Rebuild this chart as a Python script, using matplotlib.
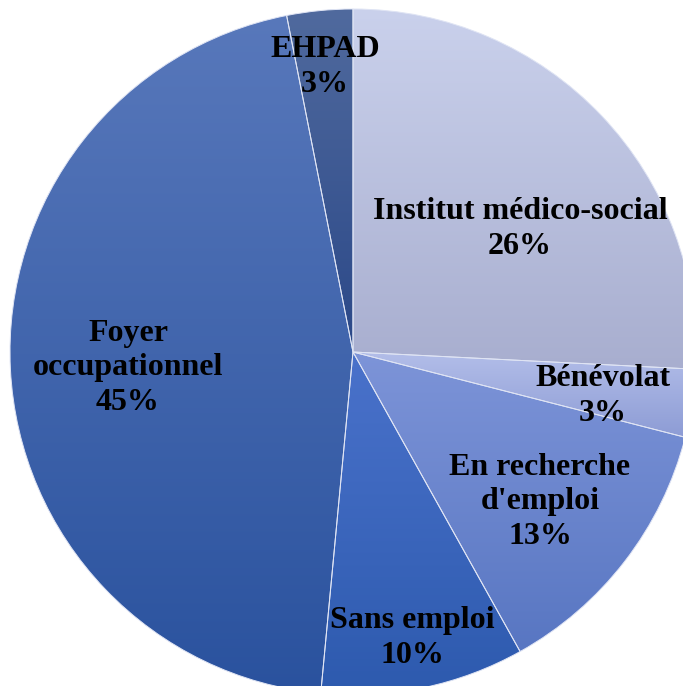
import numpy as np
import matplotlib
matplotlib.use("Agg")
import matplotlib.pyplot as plt
from matplotlib.colors import LinearSegmentedColormap

categories = ["Institut médico-social", "Bénévolat", "En recherche\nd'emploi",
              "Sans emploi", "Foyer\noccupationnel", "EHPAD"]
values = [25.8, 3.2, 12.9, 9.6, 45.4, 3.1]
top_colors = ["#cad1ec", "#b3bee9", "#7d94d8", "#4a72cb", "#5878bb", "#506a9e"]
bottom_colors = ["#a8aecf", "#8d9cd5", "#5876c2", "#2d5aae", "#2a529e", "#2b4888"]
# label centres in pixel coordinates (x, y from top)
label_pos = [(520, 229), (603, 396), (540, 502), (412, 638), (128, 368), (325, 67)]

W, H = 683, 686
fig = plt.figure(figsize=(W / 100, H / 100), dpi=100)
ax = fig.add_axes([0, 0, 1, 1])

cx, cy, r = 353, H - 352, 343
wedges, _ = ax.pie(values, startangle=90, counterclock=False, center=(cx, cy),
                   radius=r, colors=["none"] * len(values),
                   wedgeprops=dict(edgecolor="#dfe4f4", linewidth=0.7),
                   frame=True)
ax.set_xlim(0, W)
ax.set_ylim(0, H)
ax.set_aspect("equal")
ax.axis("off")

for w, c1, c2 in zip(wedges, top_colors, bottom_colors):
    ext = w.get_window_extent()
    inv = ax.transData.inverted()
    (x0, y0), (x1, y1) = inv.transform([[ext.x0, ext.y0], [ext.x1, ext.y1]])
    cmap = LinearSegmentedColormap.from_list("g", [c2, c1])
    grad = np.linspace(0, 1, 256).reshape(-1, 1)
    im = ax.imshow(grad, cmap=cmap, origin="lower", extent=[x0, x1, y0, y1],
                   aspect="auto", zorder=1, interpolation="bilinear")
    im.set_clip_path(w)
    w.set_zorder(2)

for lab, v, (px, py) in zip(categories, values, label_pos):
    ax.text(px, H - py, f"{lab}\n{v:.0f}%", ha="center", va="center",
            multialignment="center", fontsize=23, fontweight="bold",
            family="Liberation Serif", color="black", linespacing=1.27, zorder=5)

ax.set_xlim(0, W)
ax.set_ylim(0, H)
fig.savefig("out.png", dpi=100)
